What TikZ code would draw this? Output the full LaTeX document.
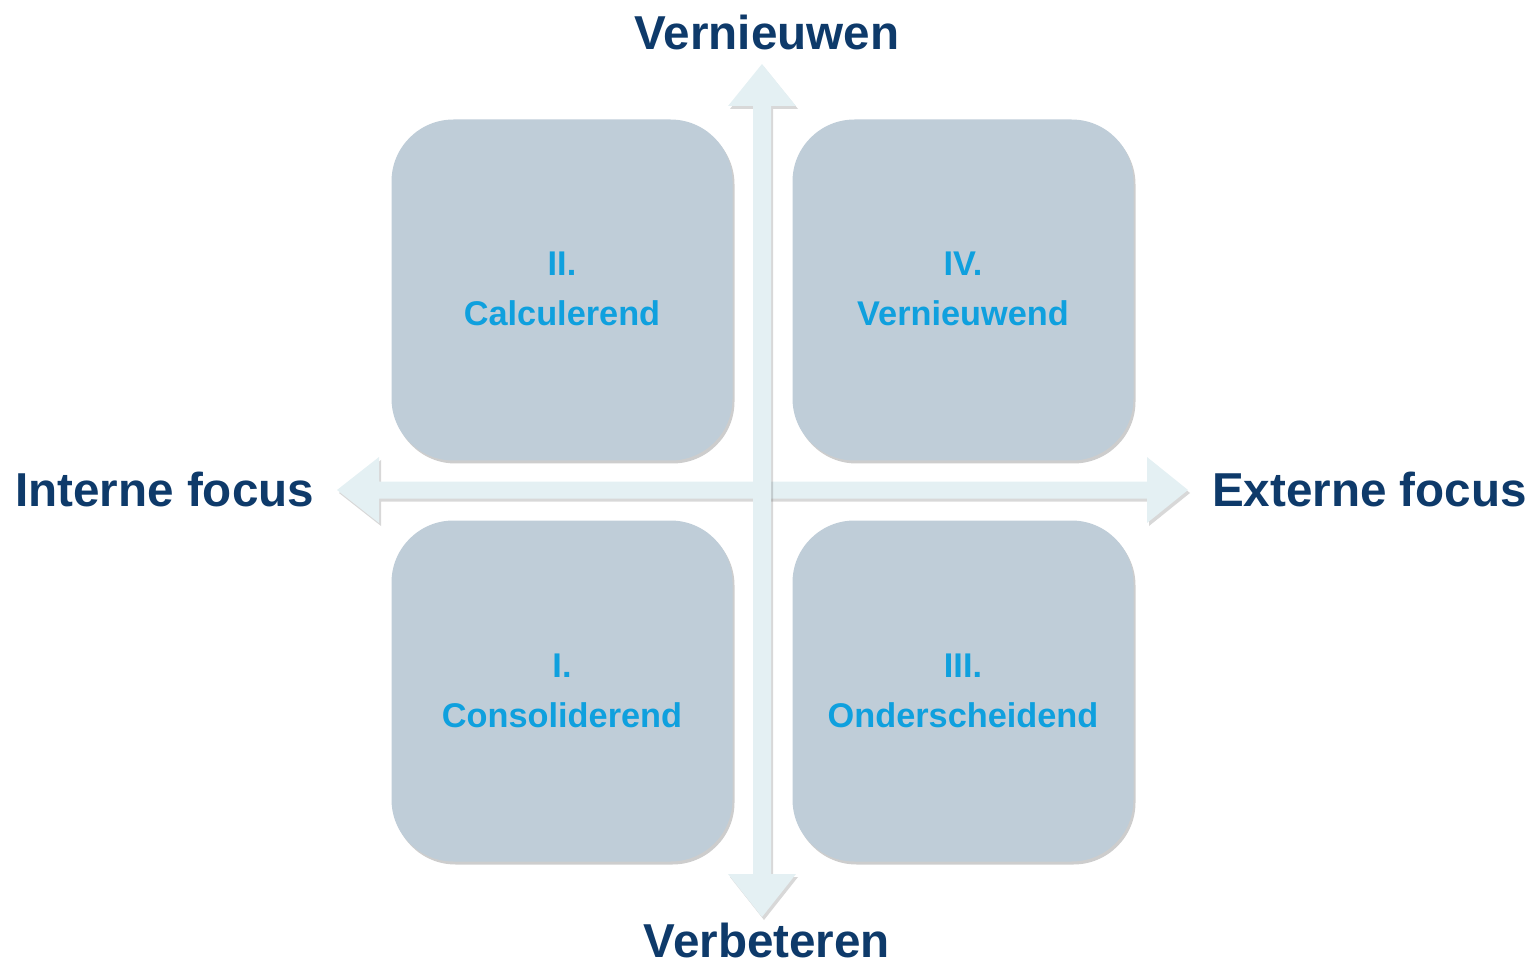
\documentclass[tikz,border=0pt]{standalone}
\usepackage{fontspec}
\setmainfont{Liberation Sans}
\usetikzlibrary{shadows}
\definecolor{boxfill}{HTML}{BFCDD8}
\definecolor{arrowfill}{HTML}{E4F0F3}
\definecolor{quadtext}{HTML}{0FA0DE}
\definecolor{axistext}{HTML}{0E3A6A}
\tikzset{
  quad/.style={rounded corners=62pt, fill=boxfill, minimum width=341pt, minimum height=341pt,
    drop shadow={shadow xshift=2pt, shadow yshift=-3pt, opacity=0.28, fill=black!70},
    inner sep=0pt, outer sep=0pt},
  quadlabel/.style={font=\bfseries\fontsize{34.3}{50}\selectfont, text=quadtext, anchor=base, inner sep=0pt},
  axislabel/.style={font=\bfseries\fontsize{47.6}{56}\selectfont, text=axistext, inner sep=0pt},
  axisarrow/.style={fill=arrowfill,
    drop shadow={shadow xshift=2pt, shadow yshift=-3pt, opacity=0.22, fill=black!70}},
}
\begin{document}
\begin{tikzpicture}[x=1pt,y=-1pt]
\useasboundingbox (0,0) rectangle (1532,965);
% quadrant boxes
\node[quad] (q2) at (562,290) {};
\node[quad] (q4) at (963,290) {};
\node[quad] (q1) at (562,691) {};
\node[quad] (q3) at (963,691) {};
% horizontal arrow
\path[axisarrow] (337,490) -- (379,457) -- (379,481.5) -- (1147,481.5) -- (1147,457) -- (1188,490)
  -- (1147,523) -- (1147,498.5) -- (379,498.5) -- (379,523) -- cycle;
% vertical arrow
\path[axisarrow] (762,64) -- (796,106) -- (771,106) -- (771,874) -- (796,874) -- (762,917)
  -- (728,874) -- (753,874) -- (753,106) -- (728,106) -- cycle;
% quadrant labels
\node[quadlabel] (t2a) at (562,276) {II.};
\node[quadlabel] (t2b) at (562,326) {Calculerend};
\node[quadlabel] (t4a) at (963,276) {IV.};
\node[quadlabel] (t4b) at (963,326) {Vernieuwend};
\node[quadlabel] (t1a) at (562,677) {I.};
\node[quadlabel] (t1b) at (562,727) {Consoliderend};
\node[quadlabel] (t3a) at (963,677) {III.};
\node[quadlabel] (t3b) at (963,727) {Onderscheidend};
% axis labels
\node[axislabel, anchor=base] (top) at (767,50) {Vernieuwen};
\node[axislabel, anchor=base] (bottom) at (767,957) {Verbeteren};
\node[axislabel, anchor=base west] (left) at (15,506) {Interne focus};
\node[axislabel, anchor=base east] (right) at (1527,506) {Externe focus};
\end{tikzpicture}
\end{document}
